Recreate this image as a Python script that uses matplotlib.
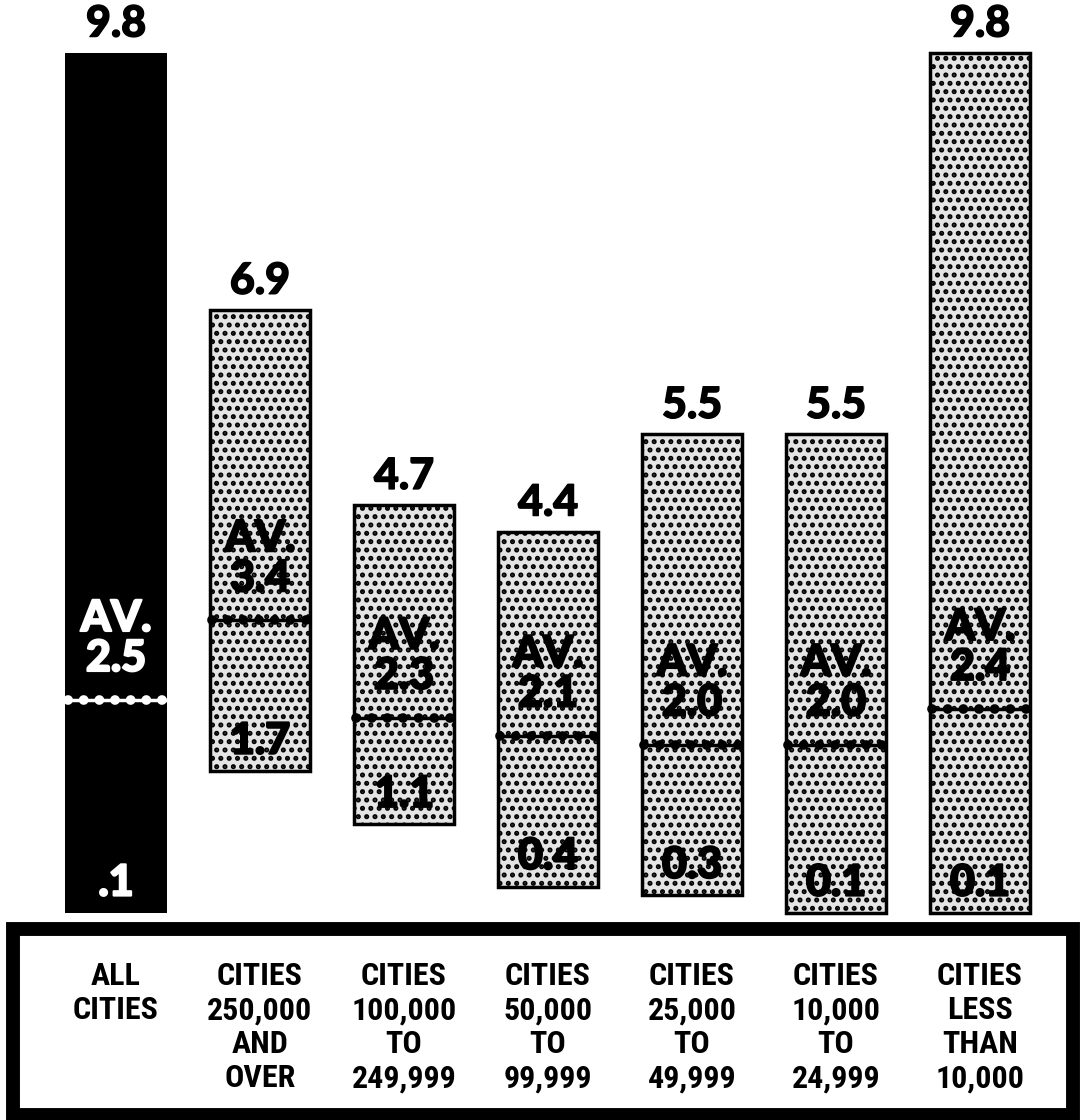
import matplotlib
matplotlib.use("Agg")
import matplotlib.pyplot as plt
from matplotlib.patches import Rectangle
import matplotlib.patheffects as pe

# data
groups = ["ALL\nCITIES", "CITIES\n250,000\nAND\nOVER", "CITIES\n100,000\nTO\n249,999",
          "CITIES\n50,000\nTO\n99,999", "CITIES\n25,000\nTO\n49,999",
          "CITIES\n10,000\nTO\n24,999", "CITIES\nLESS\nTHAN\n10,000"]
high = [9.8, 6.9, 4.7, 4.4, 5.5, 5.5, 9.8]
low = [0.1, 1.7, 1.1, 0.4, 0.3, 0.1, 0.1]
avg = [2.5, 3.4, 2.3, 2.1, 2.0, 2.0, 2.4]
low_txt = [".1", "1.7", "1.1", "0.4", "0.3", "0.1", "0.1"]

plt.rcParams['hatch.linewidth'] = 2.4
big = dict(family=['Lato', 'DejaVu Sans'], weight='black', fontsize=31)

fig = plt.figure(figsize=(10.84, 11.2), dpi=100)
ax = fig.add_axes([0, 1 - 922 / 1120, 1, 922 / 1120])
ax.set_xlim(-116 / 144, (1084 - 116) / 144)
ax.set_ylim(0, 922 / 88.7)
ax.axis('off')

for i in range(len(high)):
    if i == 0:
        ax.bar(i, high[i] - low[i], bottom=low[i], width=0.71, color='black')
        tc = 'white'
    else:
        ax.bar(i, high[i] - low[i], bottom=low[i], width=0.69, facecolor='#e4e4e4',
               edgecolor='black', linewidth=2.5, hatch='..')
        tc = 'black'
    thick = [pe.withStroke(linewidth=1.5, foreground=tc)]
    # average line (beaded)
    ax.plot([i - 0.34, i + 0.34], [avg[i], avg[i]], color=tc, lw=2.5, zorder=3)
    ax.plot([i - 0.33, i + 0.33], [avg[i], avg[i]], color=tc, lw=7, ls=(0, (0.01, 1.6)),
            solid_capstyle='round', dash_capstyle='round', zorder=3)
    # labels
    ax.annotate(f"{high[i]}", (i, high[i]), xytext=(0, 21), textcoords='offset points',
                ha='center', va='center', color='black', path_effects=[pe.withStroke(linewidth=1, foreground='black')], **big)
    ax.annotate(f"AV.\n{avg[i]}", (i, avg[i]), xytext=(0, 16), textcoords='offset points',
                ha='center', va='bottom', color=tc, linespacing=1.0, path_effects=thick, **big)
    ax.annotate(low_txt[i], (i, low[i]), xytext=(0, 22), textcoords='offset points',
                ha='center', va='center', color=tc, path_effects=thick, **big)
    # category label below
    ax.text(i, -(961 - 922) / 922, groups[i], transform=ax.get_xaxis_transform(),
            ha='center', va='top', multialignment='center', linespacing=1.17,
            family=['Roboto Condensed', 'Liberation Sans Narrow', 'DejaVu Sans'], fontstretch='condensed',
            weight='bold', fontsize=23)

# frame around the labels
fig.patches.append(Rectangle((13 / 1084, (1120 - 1115) / 1120), (1073 - 13) / 1084, (1115 - 929) / 1120,
                             transform=fig.transFigure, fill=False, edgecolor='black', linewidth=10))

fig.savefig("out.png", dpi=100, facecolor='white')
